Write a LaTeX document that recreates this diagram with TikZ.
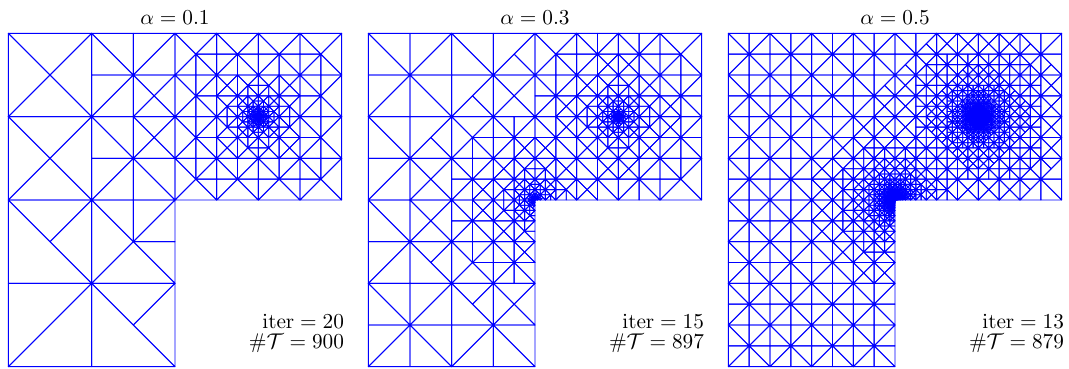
\documentclass[tikz,border=0pt]{standalone}
\usepackage{amsmath}
\tikzset{
  meshline/.style={draw=blue, line width=0.42pt, line join=round},
  lbl/.style={inner sep=0pt, outer sep=0pt, font=\fontsize{10}{12}\selectfont},
}
% mesh parameters (domain scaled by 100)
\def\meshhmax{100}
\def\meshcA{1}\def\meshpA{1}\def\meshsAx{50}\def\meshsAy{50}\def\meshhminA{0.1}
\def\meshcB{1}\def\meshpB{1}\def\meshsBx{0}\def\meshsBy{0}\def\meshhminB{1000}
% graded size bound from the distance of a triangle (vertices, edge midpoints) to a point
\newcommand\mshdist[4]{% #1=point x, #2=point y, #3 = factor, #4 = exponent
  \pgfmathsetmacro\mshd{#3*pow(max(0.001,min(veclen(\mshAx-#1,\mshAy-#2),veclen(\mshBx-#1,\mshBy-#2),
    veclen(\mshCx-#1,\mshCy-#2),veclen(\mshmx-#1,\mshmy-#2),
    veclen(\mshpx-#1,\mshpy-#2),veclen(\mshqx-#1,\mshqy-#2))),#4)}%
}
% newest vertex bisection: #1#2 -- #3#4 refinement edge, #5#6 newest vertex, #7 edge length
\newcommand\meshtri[7]{%
  \def\mshAx{#1}\def\mshAy{#2}\def\mshBx{#3}\def\mshBy{#4}\def\mshCx{#5}\def\mshCy{#6}%
  \pgfmathsetmacro\mshmx{(#1+#3)/2}%
  \pgfmathsetmacro\mshmy{(#2+#4)/2}%
  \pgfmathsetmacro\mshpx{(#1+#5)/2}%
  \pgfmathsetmacro\mshpy{(#2+#6)/2}%
  \pgfmathsetmacro\mshqx{(#3+#5)/2}%
  \pgfmathsetmacro\mshqy{(#4+#6)/2}%
  \def\mshref{0}%
  \ifdim #7pt>\meshhmax pt \def\mshref{1}\fi
  \ifdim #7pt>\meshhminA pt
    \mshdist{\meshsAx}{\meshsAy}{\meshcA}{\meshpA}%
    \ifdim #7pt>\mshd pt \def\mshref{1}\fi
  \fi
  \ifdim #7pt>\meshhminB pt
    \mshdist{\meshsBx}{\meshsBy}{\meshcB}{\meshpB}%
    \ifdim #7pt>\mshd pt \def\mshref{1}\fi
  \fi
  \ifnum\mshref=1
    \pgfmathsetmacro\mshh{#7*0.7071068}%
    \edef\mshnext{\noexpand\meshtri{#5}{#6}{#1}{#2}{\mshmx}{\mshmy}{\mshh}%
      \noexpand\meshtri{#3}{#4}{#5}{#6}{\mshmx}{\mshmy}{\mshh}}%
    \mshnext
  \else
    \path[meshline] (#1,#2) -- (#3,#4) -- (#5,#6) -- cycle;
  \fi
}
\newcommand\meshsquare[4]{%
  \pgfmathsetmacro\mshcx{(#1+#3)/2}%
  \pgfmathsetmacro\mshcy{(#2+#4)/2}%
  \edef\mshsq{%
    \noexpand\meshtri{#1}{#2}{#3}{#2}{\mshcx}{\mshcy}{100}%
    \noexpand\meshtri{#3}{#2}{#3}{#4}{\mshcx}{\mshcy}{100}%
    \noexpand\meshtri{#3}{#4}{#1}{#4}{\mshcx}{\mshcy}{100}%
    \noexpand\meshtri{#1}{#4}{#1}{#2}{\mshcx}{\mshcy}{100}}%
  \mshsq
}
\newcommand\Lmesh{%
  \meshsquare{-100}{0}{0}{100}%
  \meshsquare{0}{0}{100}{100}%
  \meshsquare{-100}{-100}{0}{0}%
}
\begin{document}
\begin{tikzpicture}[x=0.47pt,y=0.47pt]
\useasboundingbox (0,0) rectangle (1069,369);
% panel 1
\begin{scope}[shift={(175,169)},x=0.78333pt,y=0.78333pt]
  \def\meshhmax{100}
  \def\meshcA{1.173}\def\meshpA{0.85}\def\meshhminA{0.1}
  \def\meshhminB{1000}
  \Lmesh
\end{scope}
% panel 2
\begin{scope}[shift={(535,169)},x=0.78333pt,y=0.78333pt]
  \def\meshhmax{36}
  \def\meshcA{1.52}\def\meshpA{0.75}\def\meshhminA{0.1}
  \def\meshcB{1.52}\def\meshpB{0.75}\def\meshhminB{0.3}
  \Lmesh
\end{scope}
% panel 3
\begin{scope}[shift={(895,169)},x=0.78333pt,y=0.78333pt]
  \def\meshhmax{18}
  \def\meshcA{0.34}\def\meshpA{1}\def\meshhminA{0.12}
  \def\meshcB{0.42}\def\meshpB{1}\def\meshhminB{0.12}
  \Lmesh
\end{scope}
\node[lbl, anchor=base] (t1) at (175,344) {$\alpha = 0.1$};
\node[lbl, anchor=base] (t2) at (535,344) {$\alpha = 0.3$};
\node[lbl, anchor=base] (t3) at (895,344) {$\alpha = 0.5$};
\node[lbl, anchor=base east] (i1) at (344,40) {$\mathrm{iter} = 20$};
\node[lbl, anchor=base east] (n1) at (344,20) {$\#\mathcal{T} = 900$};
\node[lbl, anchor=base east] (i2) at (704,40) {$\mathrm{iter} = 15$};
\node[lbl, anchor=base east] (n2) at (704,20) {$\#\mathcal{T} = 897$};
\node[lbl, anchor=base east] (i3) at (1064,40) {$\mathrm{iter} = 13$};
\node[lbl, anchor=base east] (n3) at (1064,20) {$\#\mathcal{T} = 879$};
\end{tikzpicture}
\end{document}
